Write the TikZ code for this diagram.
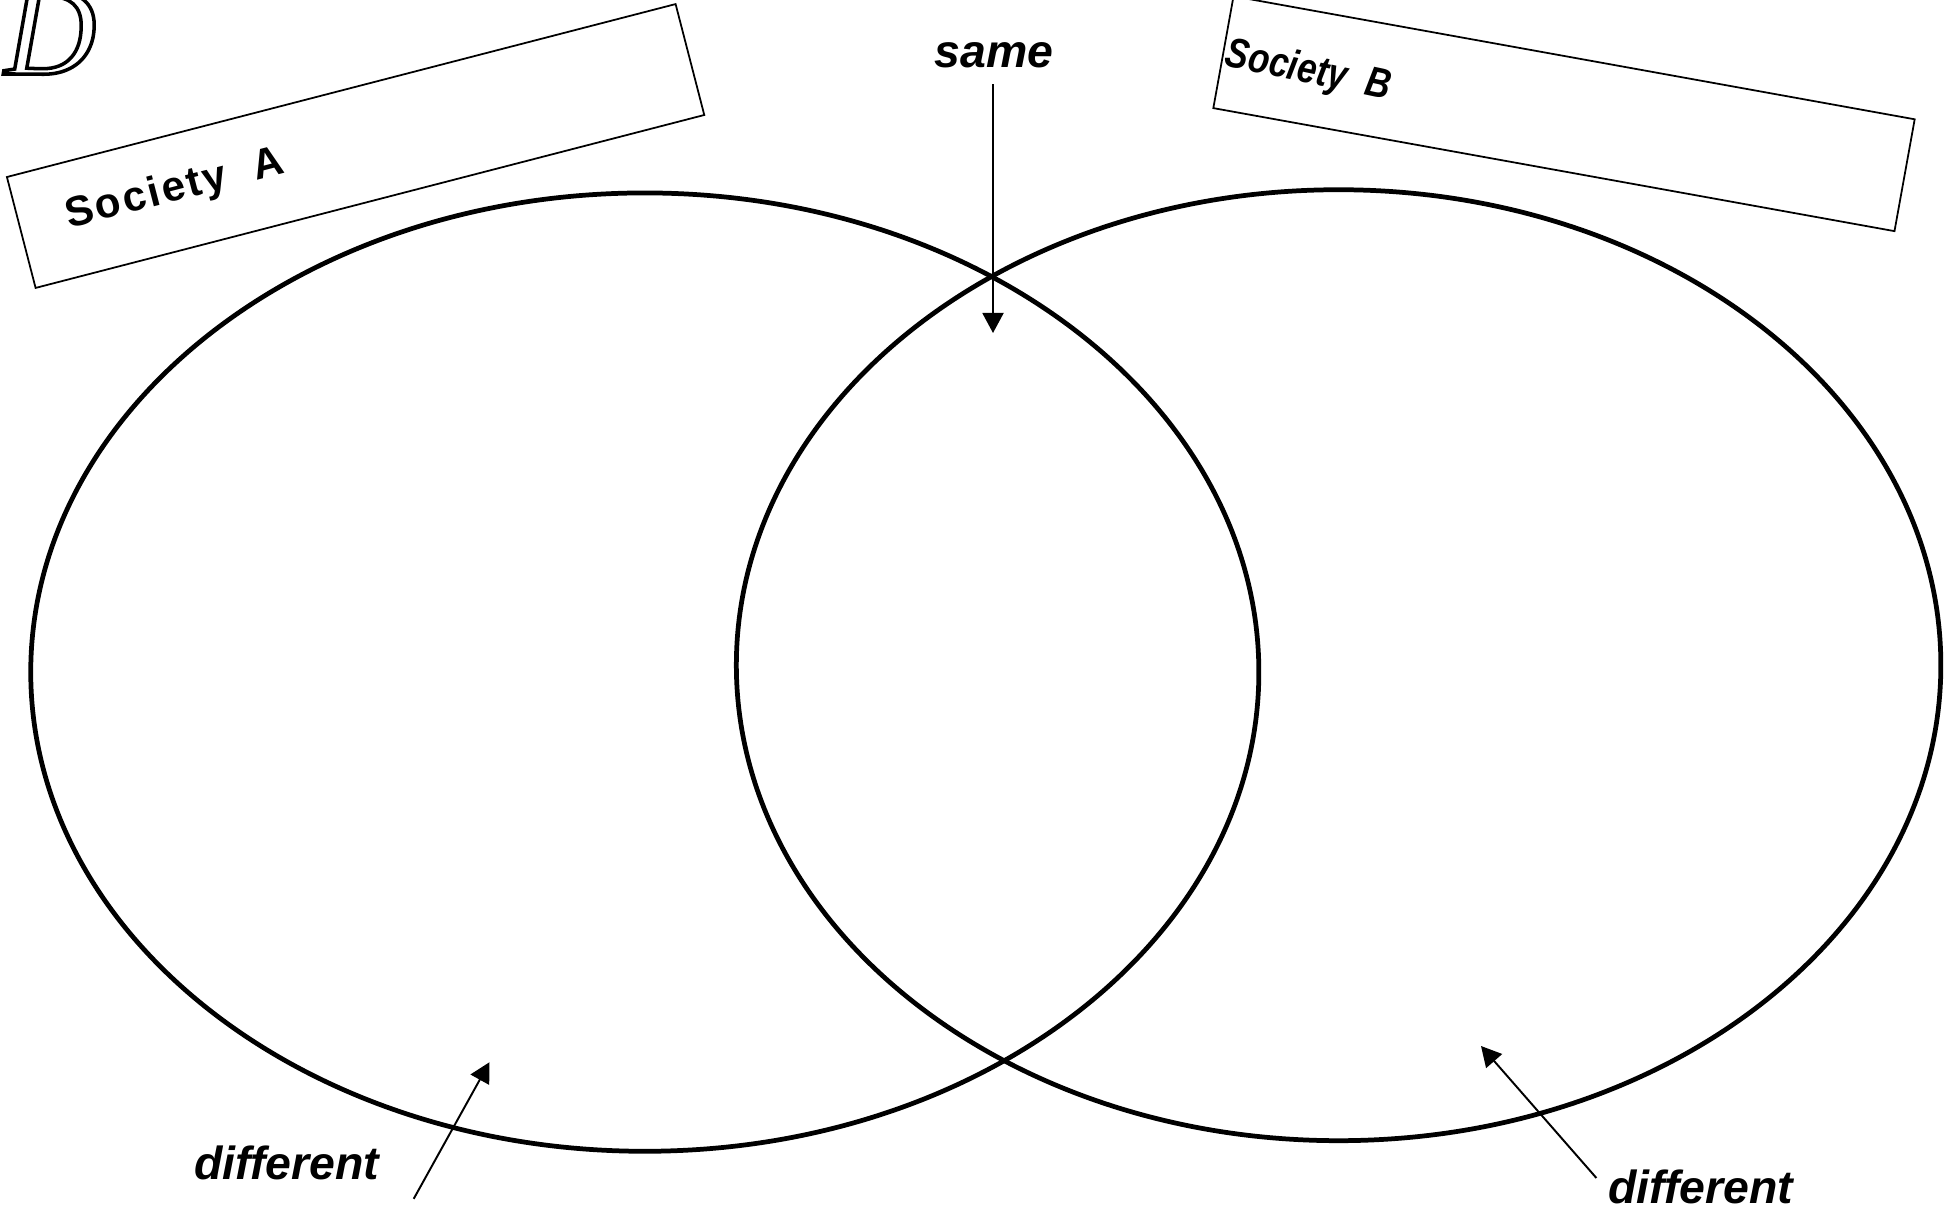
\documentclass[tikz,border=0pt]{standalone}
\usepackage{fontspec}
\setmainfont{Liberation Sans}
\newfontfamily\serifD{Liberation Serif}
\usetikzlibrary{arrows.meta,shapes.geometric}
\newcommand\outlineglyph[1]{\special{pdf:literal direct 1 Tr 1.0 w}#1\special{pdf:literal direct 0 Tr}}
\begin{document}
\begin{tikzpicture}[x=0.01cm,y=-0.01cm,
  venn/.style={draw, ellipse, line width=1.35pt, inner sep=0pt},
  namebox/.style={draw, rectangle, line width=0.5pt, inner sep=0pt},
  boxlabel/.style={font=\fontsize{12}{14}\selectfont\bfseries, inner sep=0pt},
  tag/.style={font=\fontsize{13.2}{15}\selectfont\bfseries\itshape, inner sep=0pt},
  pointer/.style={line width=0.55pt, -{Triangle[width=0.21cm,length=0.2cm]}}]
\useasboundingbox (0,0) rectangle (1948,1209);

% decorative letter
\node[anchor=base west, inner sep=0pt, font=\serifD\itshape\fontsize{36}{36}\selectfont] (deco) at (4,74) {\outlineglyph{D}};

% Venn ellipses
\node[venn, minimum width=12.274cm, minimum height=9.578cm] (ellA) at (644.8,672.1) {};
\node[venn, minimum width=12.038cm, minimum height=9.504cm] (ellB) at (1338.6,665.2) {};

% name boxes
\node[namebox, rotate=14.5, minimum width=6.903cm, minimum height=1.145cm] (boxA) at (355.6,146) {};
\node[namebox, rotate=-10.24, minimum width=6.918cm, minimum height=1.136cm] (boxB) at (1564,113.7) {};
\node[boxlabel, rotate=14.5] (labA) at (175,190) {\addfontfeature{LetterSpace=6}Society\ \ A};
\node[boxlabel, rotate=-12, font=\fontsize{12}{14}\selectfont\bfseries\itshape, xscale=0.82] (labB) at (1308,72) {Society\ \ B};

% labels
\node[tag] (same) at (994,55) {same};
\node[tag] (diffA) at (287,1163) {different};
\node[tag] (diffB) at (1701,1187) {different};

% pointers
\coordinate (sameStart) at (993,84);
\coordinate (sameTip) at (993,333);
\coordinate (dAs) at (413.7,1198.8);
\coordinate (dAt) at (489.5,1062.2);
\coordinate (dBs) at (1596.4,1178);
\coordinate (dBt) at (1481,1046);
\draw[pointer] (sameStart) -- (sameTip);
\draw[pointer] (dAs) -- (dAt);
\draw[pointer] (dBs) -- (dBt);
\end{tikzpicture}
\end{document}
